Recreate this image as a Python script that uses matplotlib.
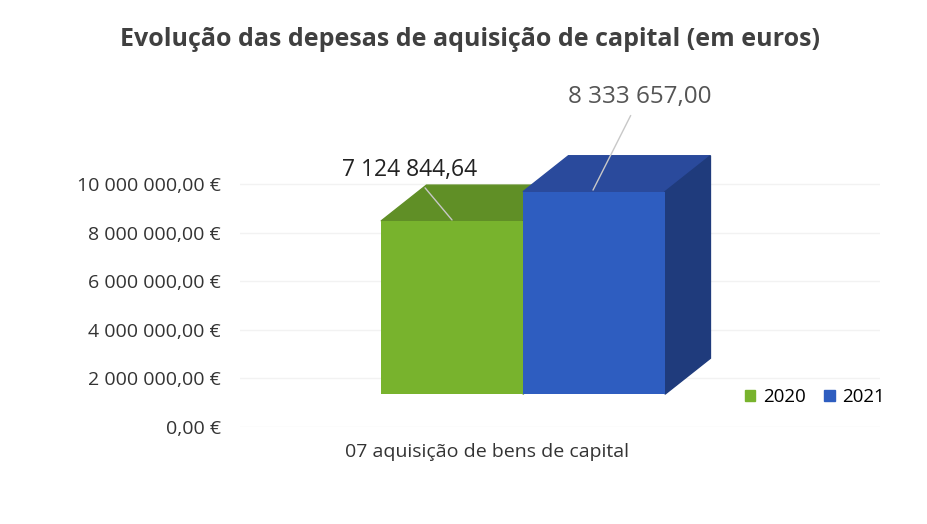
import matplotlib.pyplot as plt
from matplotlib.patches import Polygon, Patch

anos = ['2020', '2021']
valores = [7124844.64, 8333657.00]
rotulos = ['7 124 844,64', '8 333 657,00']
categoria = '07 aquisição de bens de capital'
yticks = [0, 2e6, 4e6, 6e6, 8e6, 10e6]
ytick_labels = ['0,00 €', '2 000 000,00 €', '4 000 000,00 €',
                '6 000 000,00 €', '8 000 000,00 €', '10 000 000,00 €']

cores_frente = ['#78b32d', '#2e5dc0']
cores_topo = ['#608f26', '#2a4a9c']
cores_lado = ['#4e7a1d', '#1f3b7c']

plt.rcParams['font.family'] = ['Open Sans', 'DejaVu Sans']

fig = plt.figure(figsize=(9.28, 5.24), dpi=100)
ax = fig.add_axes([240/928, 97/524, 640/928, 291.6/524])
ax.set_xlim(-1.493, 3.014)
ax.set_ylim(0, 12e6)

base = 1.35e6      # front baseline of the 3D bars
dx, dy = 0.32, 1.48e6  # depth offset

for i, v in enumerate(valores):
    x0 = i - 0.5
    x1 = i + 0.5
    top = base + v
    ax.add_patch(Polygon([(x0, top), (x1, top), (x1 + dx, top + dy), (x0 + dx, top + dy)],
                         closed=True, color=cores_topo[i], zorder=3))
    ax.add_patch(Polygon([(x1, base), (x1 + dx, base + dy), (x1 + dx, top + dy), (x1, top)],
                         closed=True, color=cores_lado[i], zorder=3))
    ax.bar(x0, v, width=1, bottom=base, align='edge', color=cores_frente[i], zorder=4)

ax.set_yticks(yticks)
ax.set_yticklabels(ytick_labels, fontsize=14, color='#333333')
ax.tick_params(axis='y', length=0, pad=14)
ax.set_xticks([])
ax.grid(axis='y', color='#f2f2f2', linewidth=1, zorder=0)
for s in ax.spines.values():
    s.set_visible(False)

ax.annotate(rotulos[0], xy=(0.0, 8.52e6), xytext=(-0.296, 10.58e6),
            fontsize=16.5, color='#222222', ha='center', va='center',
            arrowprops=dict(arrowstyle='-', color='#c8c8c8', lw=1, shrinkA=3, shrinkB=0),
            zorder=6, annotation_clip=False)
ax.annotate(rotulos[1], xy=(0.993, 9.75e6), xytext=(1.324, 13.58e6),
            fontsize=17.5, color='#555555', ha='center', va='center',
            arrowprops=dict(arrowstyle='-', color='#c8c8c8', lw=1, shrinkA=3, shrinkB=0),
            zorder=6, annotation_clip=False)

fig.text(487/928, 1 - 452/524, categoria, fontsize=14, color='#333333',
         ha='center', va='center')

fig.suptitle('Evolução das depesas de aquisição de capital (em euros)',
             x=470/928, y=1 - 40/524, va='center', fontsize=18,
             fontweight='bold', color='#404040')

handles = [Patch(color=cores_frente[i], label=anos[i]) for i in range(len(anos))]
fig.legend(handles=handles, loc='center', bbox_to_anchor=(815/928, 1 - 397/524),
           ncol=2, frameon=False, fontsize=13.5, handlelength=0.55, handleheight=0.55,
           handletextpad=0.4, columnspacing=1.0)

fig.savefig('out.png', dpi=100)
